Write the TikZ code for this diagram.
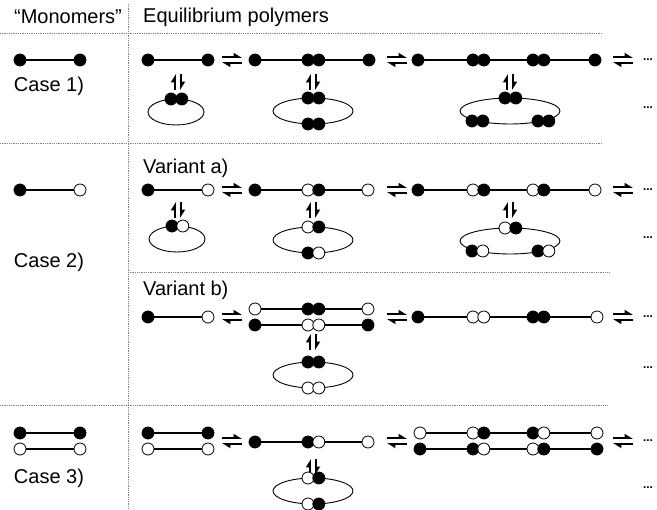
\documentclass[tikz,border=0pt]{standalone}
\usepackage{fontspec}
\setmainfont{Liberation Sans}
\usetikzlibrary{arrows.meta,shapes.geometric,positioning}
\tikzset{
    blk/.style={
        circle,
        draw=black,
        fill=black,
        line width=0.8pt,
        inner sep=0pt,
        minimum size=12pt,
    },
    wht/.style={
        circle,
        draw=black,
        fill=white,
        line width=0.8pt,
        inner sep=0pt,
        minimum size=12pt,
    },
    ring/.style={
        ellipse,
        draw=black,
        line width=0.9pt,
        inner sep=0pt,
        outer sep=0pt,
    },
    bond/.style={
        draw,
        line width=1.1pt,
    },
    sep/.style={
        draw=gray,
        densely dotted,
        line width=0.8pt,
    },
    lbl/.style={
        font=\fontsize{20}{23}\selectfont,
        inner sep=0pt,
    },
    more/.style={
        font=\bfseries\fontsize{12}{14}\selectfont,
        inner sep=0pt,
    },
    eqline/.style={
        line width=1.7pt,
        -{Triangle[harpoon,length=7pt,width=8pt]},
    },
    eqh/.pic={
        \draw[eqline] (-10,-3) -- (10,-3);
        \draw[eqline] (10,3) -- (-10,3);
    },
    eqv/.pic={
        \draw[eqline] (-3,8) -- (-3,-8);
        \draw[eqline] (3,-8) -- (3,8);
    },
}

\begin{document}
\begin{tikzpicture}[x=1pt,y=-1pt]
    \useasboundingbox (0,0) rectangle (657,510);

    \draw[sep] (0,33) -- (603,33);
    \draw[sep] (0,143) -- (603,143);
    \draw[sep] (128,272) -- (609,272);
    \draw[sep] (0,405) -- (607,405);
    \draw[sep] (128,4) -- (128,510);

    \node[lbl] (hmono) at (68,17) {“Monomers”};
    \node[lbl, anchor=west] (hpoly) at (143,17) {Equilibrium polymers};

    % case 1
    \node[blk] (m1a) at (20,60) {};
    \node[blk] (m1b) at (80,60) {};
    \draw[bond] (m1a) -- (m1b);
    \node[lbl] (case1) at (49,86) {Case 1)};

    \node[blk] (a1) at (148,60) {};
    \node[blk] (a2) at (208,60) {};
    \draw[bond] (a1) -- (a2);
    \pic (e1a) at (232,60) {eqh};
    \node[blk] (a3) at (255,60) {};
    \node[blk] (a4) at (308,60) {};
    \node[blk, right=-2pt of a4] (a5) {};
    \node[blk] (a6) at (369,60) {};
    \draw[bond] (a3) -- (a4) (a5) -- (a6);
    \pic (e1b) at (397,60) {eqh};
    \node[blk] (a7) at (418,60) {};
    \node[blk] (a8) at (473,60) {};
    \node[blk, right=-2pt of a8] (a9) {};
    \node[blk] (a10) at (533,60) {};
    \node[blk, right=-2pt of a10] (a11) {};
    \node[blk] (a12) at (595,60) {};
    \draw[bond] (a7) -- (a8) (a9) -- (a10) (a11) -- (a12);
    \pic (e1c) at (623,60) {eqh};
    \node[more] (d1a) at (648,60) {...};

    \pic (v1a) at (178,82) {eqv};
    \pic (v1b) at (313,82) {eqv};
    \pic (v1c) at (510,82) {eqv};

    \node[ring, minimum width=56pt, minimum height=26pt] (r1) at (176,112) {};
    \node[blk] (r1a) at (171,99) {};
    \node[blk, right=-2pt of r1a] (r1b) {};
    \node[ring, minimum width=80pt, minimum height=26pt] (r2) at (313,111) {};
    \node[blk] (r2a) at (308,98) {};
    \node[blk, right=-2pt of r2a] (r2b) {};
    \node[blk] (r2c) at (308,124) {};
    \node[blk, right=-2pt of r2c] (r2d) {};
    \node[ring, minimum width=100pt, minimum height=26pt] (r3) at (510,111) {};
    \node[blk] (r3a) at (505,98) {};
    \node[blk, right=-2pt of r3a] (r3b) {};
    \node[blk] (r3c) at (472,121) {};
    \node[blk, right=-2pt of r3c] (r3d) {};
    \node[blk] (r3e) at (538,121) {};
    \node[blk, right=-2pt of r3e] (r3f) {};
    \node[more] (d1b) at (648,108) {...};

    % case 2
    \node[blk] (m2a) at (20,190) {};
    \node[wht] (m2b) at (80,190) {};
    \draw[bond] (m2a) -- (m2b);
    \node[lbl] (case2) at (49,262) {Case 2)};

    \node[lbl, anchor=west] (vara) at (143,168) {Variant a)};
    \node[blk] (b1) at (148,190) {};
    \node[wht] (b2) at (208,190) {};
    \draw[bond] (b1) -- (b2);
    \pic (e2a) at (232,190) {eqh};
    \node[blk] (b3) at (255,190) {};
    \node[wht] (b4) at (308,190) {};
    \node[blk, right=-2pt of b4] (b5) {};
    \node[wht] (b6) at (368,190) {};
    \draw[bond] (b3) -- (b4) (b5) -- (b6);
    \pic (e2b) at (397,190) {eqh};
    \node[blk] (b7) at (418,190) {};
    \node[wht] (b8) at (473,190) {};
    \node[blk, right=-2pt of b8] (b9) {};
    \node[wht] (b10) at (533,190) {};
    \node[blk, right=-2pt of b10] (b11) {};
    \node[wht] (b12) at (595,190) {};
    \draw[bond] (b7) -- (b8) (b9) -- (b10) (b11) -- (b12);
    \pic (e2c) at (623,190) {eqh};
    \node[more] (d2a) at (648,190) {...};

    \pic (v2a) at (178,210) {eqv};
    \pic (v2b) at (313,210) {eqv};
    \pic (v2c) at (510,210) {eqv};

    \node[ring, minimum width=56pt, minimum height=26pt] (s1) at (177,239) {};
    \node[blk] (s1a) at (172,226) {};
    \node[wht, right=-2pt of s1a] (s1b) {};
    \node[ring, minimum width=80pt, minimum height=26pt] (s2) at (313,240) {};
    \node[wht] (s2a) at (308,227) {};
    \node[blk, right=-2pt of s2a] (s2b) {};
    \node[blk] (s2c) at (308,253) {};
    \node[wht, right=-2pt of s2c] (s2d) {};
    \node[ring, minimum width=100pt, minimum height=26pt] (s3) at (510,241) {};
    \node[wht] (s3a) at (505,228) {};
    \node[blk, right=-2pt of s3a] (s3b) {};
    \node[blk] (s3c) at (472,251) {};
    \node[wht, right=-2pt of s3c] (s3d) {};
    \node[blk] (s3e) at (538,251) {};
    \node[wht, right=-2pt of s3e] (s3f) {};
    \node[more] (d2b) at (648,238) {...};

    \node[lbl, anchor=west] (varb) at (143,290) {Variant b)};
    \node[blk] (c1) at (148,317) {};
    \node[wht] (c2) at (208,317) {};
    \draw[bond] (c1) -- (c2);
    \pic (e3a) at (232,317) {eqh};
    \node[wht] (c3) at (255,309) {};
    \node[blk] (c4) at (308,309) {};
    \node[blk, right=-2pt of c4] (c5) {};
    \node[wht] (c6) at (368,309) {};
    \draw[bond] (c3) -- (c4) (c5) -- (c6);
    \node[blk] (c7) at (255,325) {};
    \node[wht] (c8) at (308,325) {};
    \node[wht, right=-2pt of c8] (c9) {};
    \node[blk] (c10) at (368,325) {};
    \draw[bond] (c7) -- (c8) (c9) -- (c10);
    \pic (e3b) at (397,317) {eqh};
    \node[blk] (c11) at (418,317) {};
    \node[wht] (c12) at (473,317) {};
    \node[wht, right=-2pt of c12] (c13) {};
    \node[blk] (c14) at (533,317) {};
    \node[blk, right=-2pt of c14] (c15) {};
    \node[wht] (c16) at (597,317) {};
    \draw[bond] (c11) -- (c12) (c13) -- (c14) (c15) -- (c16);
    \pic (e3c) at (623,317) {eqh};
    \node[more] (d3a) at (648,317) {...};

    \pic (v3a) at (313,342) {eqv};
    \node[ring, minimum width=80pt, minimum height=26pt] (t1) at (313,375) {};
    \node[blk] (t1a) at (308,362) {};
    \node[blk, right=-2pt of t1a] (t1b) {};
    \node[wht] (t1c) at (308,388) {};
    \node[wht, right=-2pt of t1c] (t1d) {};
    \node[more] (d3b) at (648,368) {...};

    % case 3
    \node[blk] (m3a) at (20,433) {};
    \node[blk] (m3b) at (80,433) {};
    \node[wht] (m3c) at (20,449) {};
    \node[wht] (m3d) at (80,449) {};
    \draw[bond] (m3a) -- (m3b) (m3c) -- (m3d);
    \node[lbl] (case3) at (49,478) {Case 3)};

    \node[blk] (g1) at (148,433) {};
    \node[blk] (g2) at (208,433) {};
    \node[wht] (g3) at (148,449) {};
    \node[wht] (g4) at (208,449) {};
    \draw[bond] (g1) -- (g2) (g3) -- (g4);
    \pic (e4a) at (232,441) {eqh};
    \node[blk] (g5) at (255,442) {};
    \node[blk] (g6) at (308,442) {};
    \node[wht, right=-2pt of g6] (g7) {};
    \node[wht] (g8) at (368,442) {};
    \draw[bond] (g5) -- (g6) (g7) -- (g8);
    \pic (e4b) at (397,441) {eqh};
    \node[wht] (h1) at (420,433) {};
    \node[wht] (h2) at (473,433) {};
    \node[blk, right=-2pt of h2] (h3) {};
    \node[blk] (h4) at (533,433) {};
    \node[wht, right=-2pt of h4] (h5) {};
    \node[wht] (h6) at (597,433) {};
    \draw[bond] (h1) -- (h2) (h3) -- (h4) (h5) -- (h6);
    \node[blk] (h7) at (420,449) {};
    \node[blk] (h8) at (473,449) {};
    \node[wht, right=-2pt of h8] (h9) {};
    \node[wht] (h10) at (533,449) {};
    \node[blk, right=-2pt of h10] (h11) {};
    \node[blk] (h12) at (597,449) {};
    \draw[bond] (h7) -- (h8) (h9) -- (h10) (h11) -- (h12);
    \pic (e4c) at (623,441) {eqh};
    \node[more] (d4a) at (648,441) {...};

    \pic (v4a) at (313,467) {eqv};
    \node[ring, minimum width=80pt, minimum height=26pt] (w1) at (313,491) {};
    \node[wht] (w1a) at (308,478) {};
    \node[blk, right=-2pt of w1a] (w1b) {};
    \node[wht] (w1c) at (308,504) {};
    \node[blk, right=-2pt of w1c] (w1d) {};
    \node[more] (d4b) at (648,488) {...};
\end{tikzpicture}
\end{document}
